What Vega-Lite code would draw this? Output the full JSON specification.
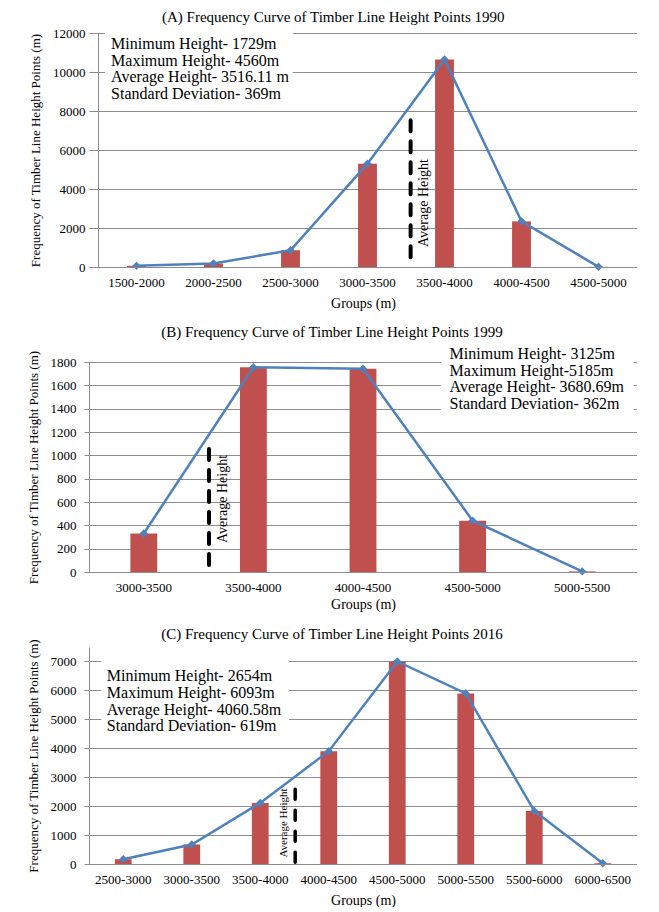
{
  "$schema": "https://vega.github.io/schema/vega-lite/v6.json",
  "background": "white",
  "padding": {"left": 26, "top": 10, "right": 0, "bottom": 0},
  "autosize": {"type": "pad"},
  "config": {
    "font": "Liberation Serif",
    "view": {"stroke": null},
    "axis": {"labelFont": "Liberation Serif", "titleFont": "Liberation Serif", "labelColor": "#000", "titleColor": "#000", "labelFontSize": 13, "titleFontSize": 13, "titleFontWeight": "normal", "domainColor": "#8c8c8c", "tickColor": "#8c8c8c", "gridColor": "#8c8c8c", "gridOpacity": 1},
    "axisX": {"ticks": false, "grid": false, "labelAngle": 0, "labelPadding": 9, "titleFontSize": 14},
    "axisY": {"tickSize": 5, "labelPadding": 8, "grid": true, "titlePadding": 10, "format": "d"},
    "title": {"font": "Liberation Serif", "fontSize": 15, "fontWeight": "normal", "color": "#000", "anchor": "middle", "frame": "bounds"}
  },
  "datasets": {
    "a": [
      {"group": "1500-2000", "freq": 60},
      {"group": "2000-2500", "freq": 180},
      {"group": "2500-3000", "freq": 860},
      {"group": "3000-3500", "freq": 5300},
      {"group": "3500-4000", "freq": 10640},
      {"group": "4000-4500", "freq": 2340},
      {"group": "4500-5000", "freq": 10}
    ],
    "b": [
      {"group": "3000-3500", "freq": 330},
      {"group": "3500-4000", "freq": 1755},
      {"group": "4000-4500", "freq": 1742},
      {"group": "4500-5000", "freq": 440},
      {"group": "5000-5500", "freq": 5}
    ],
    "c": [
      {"group": "2500-3000", "freq": 165},
      {"group": "3000-3500", "freq": 675},
      {"group": "3500-4000", "freq": 2112},
      {"group": "4000-4500", "freq": 3900},
      {"group": "4500-5000", "freq": 7000},
      {"group": "5000-5500", "freq": 5895},
      {"group": "5500-6000", "freq": 1835},
      {"group": "6000-6500", "freq": 25}
    ]
  },
  "columns": 1,
  "align": "none",
  "spacing": 15,
  "concat": [
    {
      "width": 548,
      "height": 234,
      "title": {"text": "(A) Frequency Curve of  Timber Line Height Points 1990", "offset": 2},
      "layer": [
        {
          "data": {"values": [{}]},
          "mark": {"type": "rect", "color": "white"},
          "encoding": {
            "x": {"datum": "1500-2000", "bandPosition": 0.09, "title": "Groups (m)", "axis": {"titlePadding": 7}},
            "x2": {"datum": "2500-3000", "bandPosition": 0.53},
            "y": {"datum": 8600, "title": "Frequency of Timber Line Height Points (m)", "scale": {"domain": [0, 12000], "nice": false}, "axis": {"values": [0, 2000, 4000, 6000, 8000, 10000, 12000], "format": "d", "offset": -9}},
            "y2": {"datum": 12100}
          }
        },
        {
          "data": {"name": "a"},
          "mark": {"type": "bar", "color": "#C0504D", "width": {"band": 0.245}},
          "encoding": {
            "x": {"field": "group", "type": "nominal", "title": "Groups (m)", "scale": {"domain": ["1500-2000", "2000-2500", "2500-3000", "3000-3500", "3500-4000", "4000-4500", "4500-5000"], "paddingInner": 0, "paddingOuter": 0.0585, "align": 1}, "axis": {"titlePadding": 7}},
            "y": {"field": "freq", "type": "quantitative", "title": "Frequency of Timber Line Height Points (m)", "scale": {"domain": [0, 12000], "nice": false}, "axis": {"values": [0, 2000, 4000, 6000, 8000, 10000, 12000], "format": "d", "offset": -9}}
          }
        },
        {
          "data": {"name": "a"},
          "mark": {"type": "line", "color": "#4F81BD", "strokeWidth": 2.5, "point": {"shape": "diamond", "size": 70, "filled": true, "color": "#4F81BD"}},
          "encoding": {
            "x": {"field": "group", "type": "nominal", "title": "Groups (m)", "axis": {"titlePadding": 7}},
            "y": {"field": "freq", "type": "quantitative", "title": "Frequency of Timber Line Height Points (m)", "scale": {"domain": [0, 12000], "nice": false}, "axis": {"values": [0, 2000, 4000, 6000, 8000, 10000, 12000], "format": "d", "offset": -9}}
          }
        },
        {
          "data": {"values": [{}]},
          "mark": {"type": "rule", "color": "black", "strokeWidth": 4, "strokeDash": [11, 10], "strokeCap": "round"},
          "encoding": {
            "x": {"datum": "3500-4000", "bandPosition": 0.06, "title": "Groups (m)", "axis": {"titlePadding": 7}},
            "y": {"datum": 500, "title": "Frequency of Timber Line Height Points (m)", "scale": {"domain": [0, 12000], "nice": false}, "axis": {"values": [0, 2000, 4000, 6000, 8000, 10000, 12000], "format": "d", "offset": -9}},
            "y2": {"datum": 7800}
          }
        },
        {
          "data": {"values": [{}]},
          "mark": {"type": "text", "text": "Average Height", "angle": 270, "fontSize": 14, "align": "center", "baseline": "middle", "color": "black"},
          "encoding": {
            "x": {"datum": "3500-4000", "bandPosition": 0.23, "title": "Groups (m)", "axis": {"titlePadding": 7}},
            "y": {"datum": 3282, "title": "Frequency of Timber Line Height Points (m)", "scale": {"domain": [0, 12000], "nice": false}, "axis": {"values": [0, 2000, 4000, 6000, 8000, 10000, 12000], "format": "d", "offset": -9}}
          }
        },
        {
          "data": {"values": [{}]},
          "mark": {"type": "text", "text": ["Minimum Height-  1729m", "Maximum Height- 4560m", "Average Height- 3516.11 m", "Standard Deviation-  369m"], "fontSize": 16, "lineHeight": 16.7, "align": "left", "baseline": "top", "color": "black"},
          "encoding": {
            "x": {"datum": "1500-2000", "bandPosition": 0.17, "title": "Groups (m)", "axis": {"titlePadding": 7}},
            "y": {"datum": 11846, "title": "Frequency of Timber Line Height Points (m)", "scale": {"domain": [0, 12000], "nice": false}, "axis": {"values": [0, 2000, 4000, 6000, 8000, 10000, 12000], "format": "d", "offset": -9}}
          }
        }
      ]
    },
    {
      "width": 548,
      "height": 210,
      "title": {"text": "(B) Frequency Curve of  Timber  Line Height Points 1999", "offset": 6},
      "layer": [
        {
          "data": {"values": [{}]},
          "mark": {"type": "rect", "color": "white"},
          "encoding": {
            "x": {"datum": "4500-5000", "bandPosition": 0.21, "title": "Groups (m)", "axis": {"titlePadding": 3}},
            "x2": {"datum": "5000-5500", "bandPosition": 0.97},
            "y": {"datum": 1320, "title": "Frequency of Timber Line Height Points (m)", "scale": {"domain": [0, 1800], "nice": false}, "axis": {"values": [0, 200, 400, 600, 800, 1000, 1200, 1400, 1600, 1800], "format": "d"}},
            "y2": {"datum": 1815}
          }
        },
        {
          "data": {"name": "b"},
          "mark": {"type": "bar", "color": "#C0504D", "width": {"band": 0.245}},
          "encoding": {
            "x": {"field": "group", "type": "nominal", "title": "Groups (m)", "scale": {"domain": ["3000-3500", "3500-4000", "4000-4500", "4500-5000", "5000-5500"], "paddingInner": 0, "paddingOuter": 0}, "axis": {"titlePadding": 3}},
            "y": {"field": "freq", "type": "quantitative", "title": "Frequency of Timber Line Height Points (m)", "scale": {"domain": [0, 1800], "nice": false}, "axis": {"values": [0, 200, 400, 600, 800, 1000, 1200, 1400, 1600, 1800], "format": "d"}}
          }
        },
        {
          "data": {"name": "b"},
          "mark": {"type": "line", "color": "#4F81BD", "strokeWidth": 2.5, "point": {"shape": "diamond", "size": 70, "filled": true, "color": "#4F81BD"}},
          "encoding": {
            "x": {"field": "group", "type": "nominal", "title": "Groups (m)", "axis": {"titlePadding": 3}},
            "y": {"field": "freq", "type": "quantitative", "title": "Frequency of Timber Line Height Points (m)", "scale": {"domain": [0, 1800], "nice": false}, "axis": {"values": [0, 200, 400, 600, 800, 1000, 1200, 1400, 1600, 1800], "format": "d"}}
          }
        },
        {
          "data": {"values": [{}]},
          "mark": {"type": "rule", "color": "black", "strokeWidth": 4, "strokeDash": [11, 10], "strokeCap": "round"},
          "encoding": {
            "x": {"datum": "3500-4000", "bandPosition": 0.095, "title": "Groups (m)", "axis": {"titlePadding": 3}},
            "y": {"datum": 60, "title": "Frequency of Timber Line Height Points (m)", "scale": {"domain": [0, 1800], "nice": false}, "axis": {"values": [0, 200, 400, 600, 800, 1000, 1200, 1400, 1600, 1800], "format": "d"}},
            "y2": {"datum": 1100}
          }
        },
        {
          "data": {"values": [{}]},
          "mark": {"type": "text", "text": "Average Height", "angle": 270, "fontSize": 14, "align": "center", "baseline": "middle", "color": "black"},
          "encoding": {
            "x": {"datum": "3500-4000", "bandPosition": 0.22, "title": "Groups (m)", "axis": {"titlePadding": 3}},
            "y": {"datum": 626, "title": "Frequency of Timber Line Height Points (m)", "scale": {"domain": [0, 1800], "nice": false}, "axis": {"values": [0, 200, 400, 600, 800, 1000, 1200, 1400, 1600, 1800], "format": "d"}}
          }
        },
        {
          "data": {"values": [{}]},
          "mark": {"type": "text", "text": ["Minimum Height- 3125m", "Maximum Height-5185m", "Average Height- 3680.69m", "Standard Deviation-  362m"], "fontSize": 16, "lineHeight": 16.7, "align": "left", "baseline": "top", "color": "black"},
          "encoding": {
            "x": {"datum": "4500-5000", "bandPosition": 0.29, "title": "Groups (m)", "axis": {"titlePadding": 3}},
            "y": {"datum": 1937, "title": "Frequency of Timber Line Height Points (m)", "scale": {"domain": [0, 1800], "nice": false}, "axis": {"values": [0, 200, 400, 600, 800, 1000, 1200, 1400, 1600, 1800], "format": "d"}}
          }
        }
      ]
    },
    {
      "width": 548,
      "height": 217,
      "title": {"text": "(C) Frequency Curve of  Timber  Line Height Points 2016", "offset": -3},
      "layer": [
        {
          "data": {"values": [{}]},
          "mark": {"type": "rect", "color": "white"},
          "encoding": {
            "x": {"datum": "2500-3000", "bandPosition": 0.18, "title": "Groups (m)", "axis": {"titlePadding": 7}},
            "x2": {"datum": "3500-4000", "bandPosition": 0.92},
            "y": {"datum": 4500, "title": "Frequency of Timber Line Height Points (m)", "scale": {"domain": [0, 7500], "nice": false}, "axis": {"values": [0, 1000, 2000, 3000, 4000, 5000, 6000, 7000], "format": "d"}},
            "y2": {"datum": 7100}
          }
        },
        {
          "data": {"name": "c"},
          "mark": {"type": "bar", "color": "#C0504D", "width": {"band": 0.245}},
          "encoding": {
            "x": {"field": "group", "type": "nominal", "title": "Groups (m)", "scale": {"domain": ["2500-3000", "3000-3500", "3500-4000", "4000-4500", "4500-5000", "5000-5500", "5500-6000", "6000-6500"], "paddingInner": 0, "paddingOuter": 0}, "axis": {"titlePadding": 7}},
            "y": {"field": "freq", "type": "quantitative", "title": "Frequency of Timber Line Height Points (m)", "scale": {"domain": [0, 7500], "nice": false}, "axis": {"values": [0, 1000, 2000, 3000, 4000, 5000, 6000, 7000], "format": "d"}}
          }
        },
        {
          "data": {"name": "c"},
          "mark": {"type": "line", "color": "#4F81BD", "strokeWidth": 2.5, "point": {"shape": "diamond", "size": 70, "filled": true, "color": "#4F81BD"}},
          "encoding": {
            "x": {"field": "group", "type": "nominal", "title": "Groups (m)", "axis": {"titlePadding": 7}},
            "y": {"field": "freq", "type": "quantitative", "title": "Frequency of Timber Line Height Points (m)", "scale": {"domain": [0, 7500], "nice": false}, "axis": {"values": [0, 1000, 2000, 3000, 4000, 5000, 6000, 7000], "format": "d"}}
          }
        },
        {
          "data": {"values": [{}]},
          "mark": {"type": "rule", "color": "black", "strokeWidth": 3.5, "strokeDash": [10, 11], "strokeCap": "round"},
          "encoding": {
            "x": {"datum": "4000-4500", "bandPosition": 0.01, "title": "Groups (m)", "axis": {"titlePadding": 7}},
            "y": {"datum": 60, "title": "Frequency of Timber Line Height Points (m)", "scale": {"domain": [0, 7500], "nice": false}, "axis": {"values": [0, 1000, 2000, 3000, 4000, 5000, 6000, 7000], "format": "d"}},
            "y2": {"datum": 2850}
          }
        },
        {
          "data": {"values": [{}]},
          "mark": {"type": "text", "text": "Average Height", "angle": 270, "fontSize": 11, "align": "center", "baseline": "middle", "color": "black"},
          "encoding": {
            "x": {"datum": "3500-4000", "bandPosition": 0.85, "title": "Groups (m)", "axis": {"titlePadding": 7}},
            "y": {"datum": 1416, "title": "Frequency of Timber Line Height Points (m)", "scale": {"domain": [0, 7500], "nice": false}, "axis": {"values": [0, 1000, 2000, 3000, 4000, 5000, 6000, 7000], "format": "d"}}
          }
        },
        {
          "data": {"values": [{}]},
          "mark": {"type": "text", "text": ["Minimum Height- 2654m", "Maximum Height- 6093m", "Average Height- 4060.58m", "Standard Deviation- 619m"], "fontSize": 16, "lineHeight": 16.7, "align": "left", "baseline": "top", "color": "black"},
          "encoding": {
            "x": {"datum": "2500-3000", "bandPosition": 0.26, "title": "Groups (m)", "axis": {"titlePadding": 7}},
            "y": {"datum": 6770, "title": "Frequency of Timber Line Height Points (m)", "scale": {"domain": [0, 7500], "nice": false}, "axis": {"values": [0, 1000, 2000, 3000, 4000, 5000, 6000, 7000], "format": "d"}}
          }
        }
      ]
    }
  ]
}
